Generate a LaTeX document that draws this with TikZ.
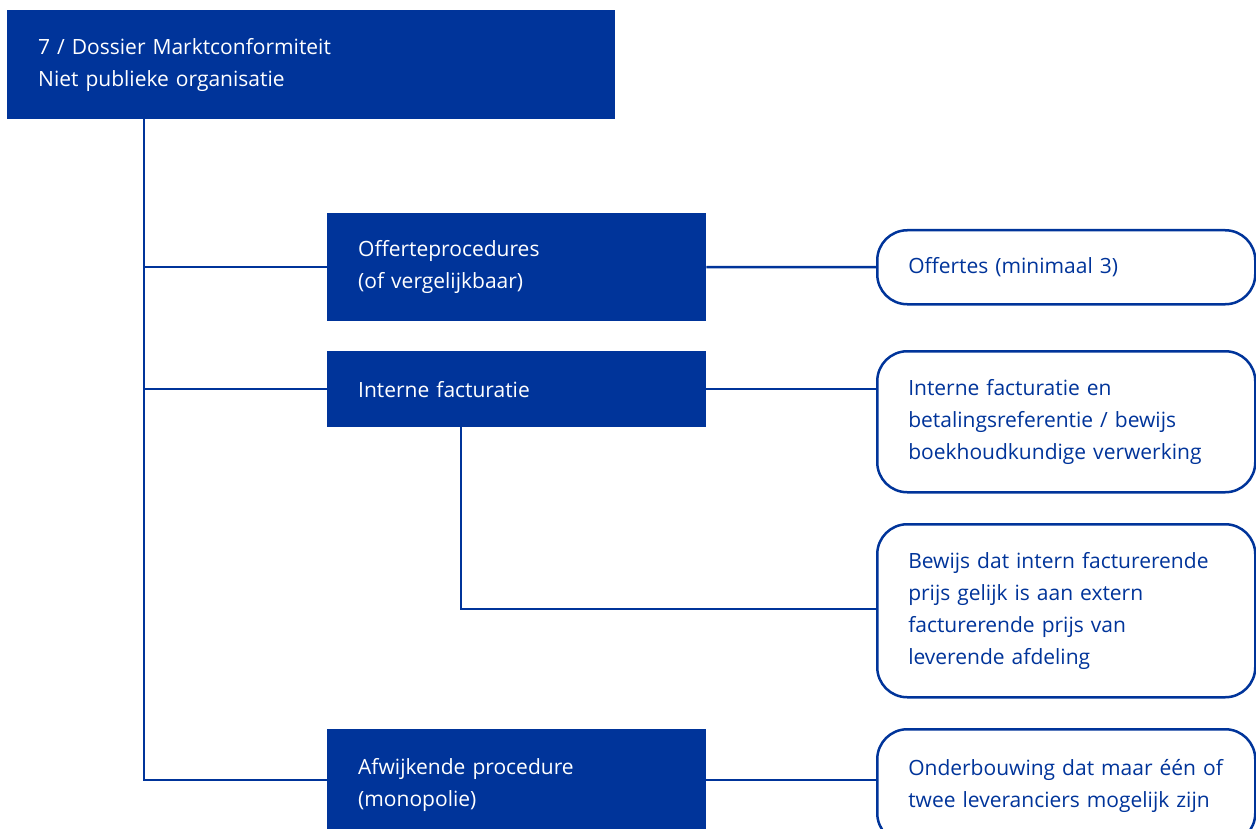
\documentclass[tikz,border=0pt]{standalone}
\usepackage{fontspec}
\setmainfont{Open Sans}
\usetikzlibrary{calc}
\definecolor{dblue}{RGB}{0,52,154}
\tikzset{
  sq/.style={fill=dblue, draw=none, text=white, anchor=north west, align=left,
    inner xsep=31pt, inner ysep=0pt, font=\fontsize{21}{32}\selectfont},
  rd/.style={draw=dblue, line width=2.5pt, fill=white, text=dblue, rounded corners=30pt,
    anchor=north west, align=left, inner xsep=31pt, inner ysep=0pt,
    font=\fontsize{21}{32}\selectfont, text width=316pt, minimum width=378pt},
  ln/.style={draw=dblue, line width=2.5pt}
}
\begin{document}
\begin{tikzpicture}[x=1pt,y=-1pt]
\useasboundingbox (0,0) rectangle (1256,829);
\clip (0,0) rectangle (1256,829);
\coordinate (t0) at (144,119);
\coordinate (t3) at (144,780);
\coordinate (k) at (461,609);
\node[sq, text width=546pt, minimum width=608pt, minimum height=109pt] (top) at (7,10) {7 / Dossier Marktconformiteit\\Niet publieke organisatie};
\node[sq, text width=317pt, minimum width=379pt, minimum height=108pt] (b2) at (327,213) {Offerteprocedures\\(of vergelijkbaar)};
\node[sq, text width=317pt, minimum width=379pt, minimum height=76pt] (b3) at (327,351) {Interne facturatie};
\node[sq, text width=317pt, minimum width=379pt, minimum height=112pt] (b4) at (327,729) {Afwijkende procedure\\(monopolie)};
\node[rd, minimum height=74pt] (r1) at (876,229) {Offertes (minimaal 3)};
\node[rd, minimum height=141pt] (r2) at (876,350) {Interne facturatie en\\betalingsreferentie / bewijs\\boekhoudkundige verwerking};
\node[rd, minimum height=173pt] (r3) at (876,523) {Bewijs dat intern facturerende\\prijs gelijk is aan extern\\facturerende prijs van\\leverende afdeling};
\node[rd, minimum height=114pt] (r4) at (876,728) {Onderbouwing dat maar één of\\twee leveranciers mogelijk zijn};
\draw[ln] (t0) -- (t3) -- (t3 -| b4.west);
\draw[ln] (t0 |- b2.west) -- (b2.west);
\draw[ln] (t0 |- b3.west) -- (b3.west);
\draw[ln] (b2.east) -- (r1.west);
\draw[ln] (b3.east) -- (b3.east -| r2.west);
\draw[ln] (b3.south -| k) -- (k) -- (k -| r3.west);
\draw[ln] (t3 -| b4.east) -- (t3 -| r4.west);
\end{tikzpicture}
\end{document}
